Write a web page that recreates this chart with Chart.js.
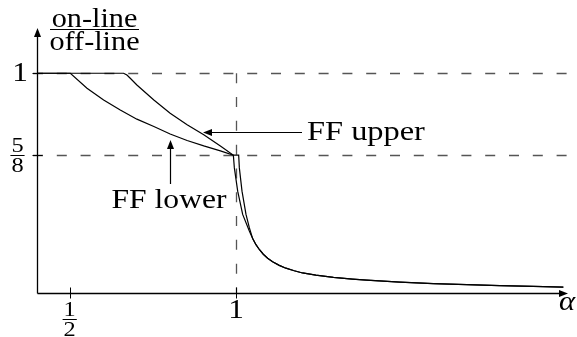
<!DOCTYPE html>
<html>
<head>
<meta charset="utf-8">
<script src="https://cdn.jsdelivr.net/npm/chart.js@4.4.0/dist/chart.umd.min.js"></script>
<style>
  html, body { margin: 0; padding: 0; background: #fff; }
  #wrap { width: 577px; height: 337px; position: relative; }
</style>
</head>
<body>
<div id="wrap"><canvas id="ratio-chart"></canvas></div>
<script>
// alpha / ratio pairs
const lowerAlpha = [0.4017, 0.502, 0.552, 0.602, 0.652, 0.702, 0.753, 0.802, 0.853, 0.903, 0.953, 0.992,
    0.995, 1.005, 1.020, 1.040, 1.050, 1.060, 1.070, 1.082, 1.095, 1.110, 1.130, 1.150, 1.175, 1.200,
    1.240, 1.293, 1.350, 1.393, 1.493, 1.593, 1.694, 1.793, 1.894, 1.984];
const lowerRatio = [1, 1, 0.931, 0.877, 0.831, 0.789, 0.755, 0.721, 0.691, 0.666, 0.643, 0.6235,
    0.565, 0.458, 0.351, 0.275, 0.240, 0.212, 0.190, 0.168, 0.150, 0.134, 0.117, 0.104, 0.092, 0.082,
    0.072, 0.062, 0.054, 0.049, 0.040, 0.033, 0.028, 0.024, 0.020, 0.017];
const upperAlpha = [0.4017, 0.662, 0.672, 0.682, 0.702, 0.753, 0.802, 0.853, 0.903, 0.953, 0.992,
    1.008, 1.010, 1.018, 1.030, 1.040, 1.050, 1.060, 1.070, 1.082, 1.095, 1.110, 1.130, 1.150, 1.175, 1.200,
    1.240, 1.293, 1.350, 1.393, 1.493, 1.593, 1.694, 1.793, 1.894, 1.984];
const upperRatio = [1, 1, 0.992, 0.977, 0.946, 0.877, 0.816, 0.763, 0.717, 0.666, 0.6235,
    0.6235, 0.565, 0.458, 0.351, 0.290, 0.240, 0.212, 0.190, 0.168, 0.150, 0.134, 0.117, 0.104, 0.092, 0.082,
    0.072, 0.062, 0.054, 0.049, 0.040, 0.033, 0.028, 0.024, 0.020, 0.017];

const xTickValues = [0.5, 1];
const xTickLabels = [['1', '2'], '1'];
const yTickValues = [0.625, 1];
const yTickLabels = [['5', '8'], '1'];
const refLinesY = [1, 0.625];
const refLineX = 1;

const yTitle = ['on-line', 'off-line'];
const xTitle = 'α';
const seriesNames = ['FF lower', 'FF upper'];

const SERIF = "'Liberation Serif', 'Times New Roman', 'DejaVu Serif', serif";
const STRETCH = 1.16;   // Times is narrower than the original's font

function toPoints(xs, ys) {
    return xs.map((x, i) => ({ x: x, y: ys[i] }));
}

// draws text widened horizontally around its anchor
function wideText(ctx, text, x, y, sx) {
    ctx.save();
    ctx.translate(x, y);
    ctx.scale(sx, 1);
    ctx.fillText(text, 0, 0);
    ctx.restore();
}

function arrowHead(ctx, x, y, angle) {
    ctx.save();
    ctx.translate(x, y);
    ctx.rotate(angle);
    ctx.beginPath();
    ctx.moveTo(0, 0);
    ctx.lineTo(-9, -3.5);
    ctx.lineTo(-9, 3.5);
    ctx.closePath();
    ctx.fill();
    ctx.restore();
}

function fraction(ctx, parts, cx, barY, size) {
    ctx.font = size + 'px ' + SERIF;
    ctx.textAlign = 'center';
    ctx.textBaseline = 'alphabetic';
    const w = Math.max(ctx.measureText(parts[0]).width, ctx.measureText(parts[1]).width) * STRETCH + 2;
    wideText(ctx, parts[0], cx, barY - 3, STRETCH);
    wideText(ctx, parts[1], cx, barY + size * 0.7 + 2, STRETCH);
    ctx.beginPath();
    ctx.lineWidth = 1;
    ctx.moveTo(cx - w / 2, barY + 0.5);
    ctx.lineTo(cx + w / 2, barY + 0.5);
    ctx.stroke();
}

const refLinesPlugin = {
    id: 'refLines',
    beforeDatasetsDraw(chart) {
        const ctx = chart.ctx;
        const xs = chart.scales.x, ys = chart.scales.y;
        const area = chart.chartArea;
        ctx.save();
        ctx.strokeStyle = '#555';
        ctx.lineWidth = 1.3;
        ctx.setLineDash([10, 13.8]);
        refLinesY.forEach(v => {
            const py = Math.round(ys.getPixelForValue(v)) + 0.5;
            ctx.beginPath();
            ctx.moveTo(area.left - 4, py);
            ctx.lineTo(577, py);
            ctx.stroke();
        });
        const px = Math.round(xs.getPixelForValue(refLineX)) + 0.5;
        ctx.beginPath();
        ctx.moveTo(px, ys.getPixelForValue(1));
        ctx.lineTo(px, area.bottom);
        ctx.stroke();
        ctx.restore();
    },
    afterDatasetsDraw(chart) {
        const ctx = chart.ctx;
        const xs = chart.scales.x, ys = chart.scales.y;
        const area = chart.chartArea;
        ctx.save();
        ctx.strokeStyle = '#000';
        ctx.fillStyle = '#000';
        ctx.lineWidth = 1.3;

        // axes with arrows
        const ax = Math.round(area.left) + 0.5;
        const ay = Math.round(area.bottom) + 0.5;
        ctx.beginPath();
        ctx.moveTo(ax, ay);
        ctx.lineTo(ax, area.top + 4);
        ctx.moveTo(ax, ay);
        ctx.lineTo(area.right - 4, ay);
        ctx.stroke();
        arrowHead(ctx, ax, area.top, -Math.PI / 2);
        arrowHead(ctx, area.right, ay, 0);

        // ticks
        ctx.lineWidth = 1;
        yTickValues.forEach(v => {
            const py = Math.round(ys.getPixelForValue(v)) + 0.5;
            ctx.beginPath();
            ctx.moveTo(ax - 5, py);
            ctx.lineTo(ax + 5, py);
            ctx.stroke();
        });
        xTickValues.forEach(v => {
            const px = Math.round(xs.getPixelForValue(v)) + 0.5;
            ctx.beginPath();
            ctx.moveTo(px, ay - 6);
            ctx.lineTo(px, ay + 5);
            ctx.stroke();
        });

        // tick labels
        yTickLabels.forEach((lab, i) => {
            const py = ys.getPixelForValue(yTickValues[i]);
            if (Array.isArray(lab)) {
                fraction(ctx, lab, 17.5, Math.round(py), 21);
            } else {
                ctx.font = '27px ' + SERIF;
                ctx.textAlign = 'center';
                ctx.textBaseline = 'middle';
                wideText(ctx, lab, 20, py + 1, STRETCH);
            }
        });
        xTickLabels.forEach((lab, i) => {
            const px = xs.getPixelForValue(xTickValues[i]);
            if (Array.isArray(lab)) {
                fraction(ctx, lab, px, 319, 21);
            } else {
                ctx.font = '27px ' + SERIF;
                ctx.textAlign = 'center';
                ctx.textBaseline = 'middle';
                wideText(ctx, lab, px, 311, STRETCH);
            }
        });

        // axis titles
        ctx.font = 'italic 28px ' + SERIF;
        ctx.textAlign = 'center';
        ctx.textBaseline = 'middle';
        wideText(ctx, xTitle, 567, 303, 1.1);

        ctx.font = '27px ' + SERIF;
        ctx.textBaseline = 'alphabetic';
        wideText(ctx, yTitle[0], 94.5, 27, 1.12);
        wideText(ctx, yTitle[1], 94.5, 50, 1.12);
        ctx.lineWidth = 1;
        ctx.beginPath();
        ctx.moveTo(50, 29.5);
        ctx.lineTo(139, 29.5);
        ctx.stroke();

        // series annotations
        ctx.lineWidth = 1.2;
        ctx.beginPath();
        ctx.moveTo(302, 132.5);
        ctx.lineTo(210, 132.5);
        ctx.stroke();
        arrowHead(ctx, 203, 132.5, Math.PI);
        ctx.textAlign = 'left';
        wideText(ctx, seriesNames[1], 307, 140, 1.2);

        ctx.beginPath();
        ctx.moveTo(170.5, 184);
        ctx.lineTo(170.5, 147);
        ctx.stroke();
        arrowHead(ctx, 170.5, 140, -Math.PI / 2);
        ctx.textAlign = 'center';
        wideText(ctx, seriesNames[0], 169, 208, 1.17);

        ctx.restore();
    }
};

const ctx = document.getElementById('ratio-chart').getContext('2d');

new Chart(ctx, {
    type: 'scatter',
    data: {
        datasets: [{
            label: seriesNames[0],
            data: toPoints(lowerAlpha, lowerRatio),
            showLine: true,
            borderColor: '#000',
            borderWidth: 1.2,
            pointRadius: 0,
            tension: 0
        }, {
            label: seriesNames[1],
            data: toPoints(upperAlpha, upperRatio),
            showLine: true,
            borderColor: '#000',
            borderWidth: 1.2,
            pointRadius: 0,
            tension: 0
        }]
    },
    options: {
        responsive: true,
        maintainAspectRatio: false,
        animation: false,
        layout: {
            padding: { left: 37, right: 9, top: 28, bottom: 44 }
        },
        scales: {
            x: { type: 'linear', min: 0.4017, max: 1.998, display: false },
            y: { type: 'linear', min: -0.0101, max: 1.208, display: false }
        },
        plugins: {
            legend: { display: false },
            tooltip: { enabled: false }
        }
    },
    plugins: [refLinesPlugin]
});
</script>
</body>
</html>
